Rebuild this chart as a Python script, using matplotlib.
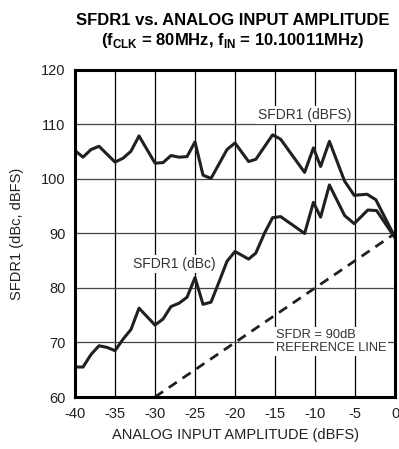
import matplotlib
matplotlib.use("Agg")
import matplotlib.pyplot as plt
from matplotlib import font_manager

# font: narrow sans if available
names = {f.name for f in font_manager.fontManager.ttflist}
narrow = "Liberation Sans Narrow" if "Liberation Sans Narrow" in names else "Liberation Sans"
plt.rcParams["font.family"] = [narrow, "DejaVu Sans"]
plt.rcParams["mathtext.fontset"] = "custom"
plt.rcParams["mathtext.rm"] = narrow
plt.rcParams["mathtext.bf"] = narrow + ":bold"
plt.rcParams["axes.unicode_minus"] = False

# SFDR1 (dBFS) curve
dbfs_x = [-40, -39, -38, -37, -35, -34, -33, -32, -30, -29, -28, -27, -26, -25,
          -24, -23, -21, -20, -18.3, -17.4, -15.3, -14.3, -11.3, -10.2, -9.3,
          -8.2, -6.3, -5.1, -3.5, -2.4, 0]
dbfs_y = [105.2, 104.0, 105.4, 106.0, 103.1, 103.8, 105.1, 107.9, 102.9, 103.0,
          104.3, 104.0, 104.1, 106.8, 100.7, 100.1, 105.4, 106.6, 103.2, 103.6,
          108.1, 107.3, 101.2, 105.7, 102.3, 106.9, 99.6, 97.0, 97.2, 96.2, 89.3]

# SFDR1 (dBc) curve
dbc_x = [-40, -39, -38, -37, -36, -35, -34, -33, -32, -30, -29, -28, -27, -26,
         -25, -24, -23, -22, -21, -20, -18.3, -17.4, -16.3, -15.3, -14.3, -11.3,
         -10.2, -9.3, -8.2, -6.3, -5.1, -3.4, -2.3, 0]
dbc_y = [65.5, 65.5, 67.8, 69.4, 69.1, 68.5, 70.6, 72.4, 76.3, 73.2, 74.3, 76.6,
         77.2, 78.3, 81.9, 77.0, 77.4, 81.1, 84.9, 86.7, 85.3, 86.4, 90.1, 92.9,
         93.1, 90.0, 95.7, 93.0, 98.9, 93.3, 91.8, 94.3, 94.2, 89.2]

# SFDR = 90dB reference line
ref_x = [-30, 0]
ref_y = [60, 90]

x_ticks = [-40, -35, -30, -25, -20, -15, -10, -5, 0]
y_ticks = [60, 70, 80, 90, 100, 110, 120]

fig = plt.figure(figsize=(3.99, 4.49), dpi=100)
ax = fig.add_axes([0.188, 0.1158, 0.802, 0.7284])

for xv in x_ticks:
    ax.axvline(xv, color="black", lw=0.9, zorder=1)
for yv in y_ticks:
    ax.axhline(yv, color="#444444", lw=0.9, zorder=1)

ax.plot(dbfs_x, dbfs_y, color="#231f20", lw=2.2, zorder=3)
ax.plot(dbc_x, dbc_y, color="#231f20", lw=2.2, zorder=3)
ax.plot(ref_x, ref_y, color="#231f20", lw=2.0, ls=(0, (3.5, 2.5)), zorder=3)

box = dict(facecolor="white", edgecolor="none", pad=1.5)
ax.text(-11.3, 111.8, "SFDR1 (dBFS)", fontsize=10, ha="center", va="center",
        color="#333333", bbox=box, zorder=2)
ax.text(-27.6, 84.4, "SFDR1 (dBc)", fontsize=10, ha="center", va="center",
        color="#333333", bbox=box, zorder=2)
ax.text(-14.9, 70.2, "SFDR = 90dB\nREFERENCE LINE", fontsize=9.3, ha="left",
        va="center", color="#333333", linespacing=1.1, bbox=box, zorder=2)

ax.set_xlim(-40, 0)
ax.set_ylim(60, 120)
ax.set_xticks(x_ticks)
ax.set_yticks(y_ticks)
ax.tick_params(length=0, labelsize=10.5, pad=7, colors="#231f20")
for s in ax.spines.values():
    s.set_linewidth(2.2)
    s.set_zorder(4)

ax.set_xlabel("ANALOG INPUT AMPLITUDE (dBFS)", fontsize=10.5, labelpad=5, color="#231f20")
ax.set_ylabel("SFDR1 (dBc, dBFS)", fontsize=10.5, labelpad=12, color="#231f20")

fig.text(0.583, 0.955, "SFDR1 vs. ANALOG INPUT AMPLITUDE", fontsize=12,
         fontweight="bold", ha="center", va="center")
fig.text(0.583, 0.91, r"(f$_\mathbf{CLK}$ = 80MHz, f$_\mathbf{IN}$ = 10.10011MHz)",
         fontsize=12, fontweight="bold", ha="center", va="center")

fig.savefig("out.png", dpi=100)
